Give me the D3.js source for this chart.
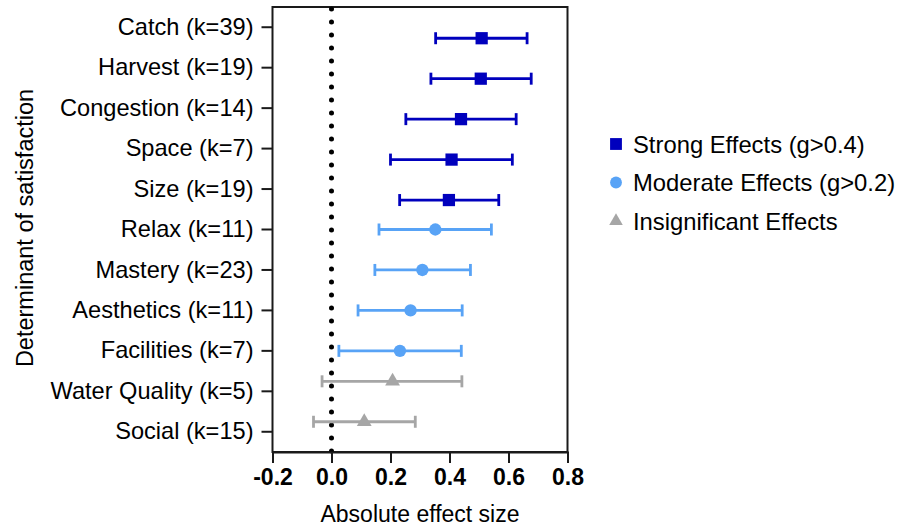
<!DOCTYPE html>
<html>
<head>
<meta charset="utf-8">
<script src="https://cdn.jsdelivr.net/npm/d3@7"></script>
<style>
  body { margin: 0; background: #fff; }
  text { font-family: "Liberation Sans", Arial, sans-serif; fill: #000; }
</style>
</head>
<body>
<div class="container"></div>
<script>
const WIDTH = 910,
    HEIGHT = 527,
    LEFT = 272.5,
    RIGHT = 567.5,
    TOP = 7,
    BOTTOM = 452;

// data
var categories = ['Catch (k=39)', 'Harvest (k=19)', 'Congestion (k=14)', 'Space (k=7)', 'Size (k=19)',
    'Relax (k=11)', 'Mastery (k=23)', 'Aesthetics (k=11)', 'Facilities (k=7)', 'Water Quality (k=5)', 'Social (k=15)'];
var means = [0.509, 0.506, 0.439, 0.407, 0.398, 0.352, 0.308, 0.268, 0.232, 0.207, 0.111];
var lower = [0.353, 0.337, 0.252, 0.200, 0.231, 0.161, 0.147, 0.090, 0.025, -0.032, -0.061];
var upper = [0.663, 0.677, 0.626, 0.613, 0.567, 0.542, 0.471, 0.443, 0.440, 0.442, 0.284];
var groups = ['strong', 'strong', 'strong', 'strong', 'strong',
    'moderate', 'moderate', 'moderate', 'moderate', 'insignificant', 'insignificant'];
var groupNames = ['strong', 'moderate', 'insignificant'];
var legendLabels = ['Strong Effects (g>0.4)', 'Moderate Effects (g>0.2)', 'Insignificant Effects'];
var xTicks = [-0.2, 0.0, 0.2, 0.4, 0.6, 0.8];

var colors = { strong: '#0000bd', moderate: '#58a3f6', insignificant: '#a6a6a6' };
var offsets = { strong: 11, moderate: 0, insignificant: -10 };
var shapes = { strong: d3.symbolSquare, moderate: d3.symbolCircle, insignificant: d3.symbolTriangle };
var sizes = { strong: 150, moderate: 120, insignificant: 95 };

var translate = (x, y) => "translate(" + x + "," + y + ")";

var svg = d3.select('.container').append('svg')
    .attr('width', WIDTH)
    .attr('height', HEIGHT);

var xScale = d3.scaleLinear().domain([-0.2, 0.8]).range([LEFT, RIGHT]);
var yScale = d3.scaleBand().domain(categories).range([TOP, BOTTOM]);

var data = categories.map((c, i) => ({
    c: c, m: means[i], lo: lower[i], hi: upper[i], g: groups[i]
}));
var yPos = (d) => yScale(d.c) + yScale.bandwidth() / 2 + offsets[d.g];

// frame
svg.append('rect')
    .attr('x', LEFT).attr('y', TOP)
    .attr('width', RIGHT - LEFT).attr('height', BOTTOM - TOP)
    .attr('fill', 'none').attr('stroke', '#1a1a1a').attr('stroke-width', 2);

// zero line
svg.append('line')
    .attr('x1', xScale(0)).attr('x2', xScale(0))
    .attr('y1', TOP + 2).attr('y2', BOTTOM)
    .attr('stroke', '#000').attr('stroke-width', 5)
    .attr('stroke-linecap', 'round')
    .attr('stroke-dasharray', '0 13');

// x axis
var xAxis = svg.append('g')
    .attr('transform', translate(0, BOTTOM))
    .call(d3.axisBottom(xScale).tickValues(xTicks).tickFormat(d3.format('.1f')).tickSize(11).tickPadding(6));
xAxis.select('.domain').attr('stroke', '#1a1a1a').attr('stroke-width', 2);
xAxis.selectAll('.tick line').attr('stroke', '#1a1a1a').attr('stroke-width', 2);
xAxis.selectAll('.tick text')
    .style('font-family', '"Liberation Sans", Arial, sans-serif')
    .style('font-size', '23px').style('font-weight', 'bold').attr('fill', '#000')
    .text(d => d.toFixed(1).replace('−', '-'));

// y axis
var yAxis = svg.append('g')
    .attr('transform', translate(LEFT, 0))
    .call(d3.axisLeft(yScale).tickSize(11).tickPadding(8));
yAxis.select('.domain').remove();
yAxis.selectAll('.tick line').attr('stroke', '#1a1a1a').attr('stroke-width', 2);
yAxis.selectAll('.tick text')
    .style('font-family', '"Liberation Sans", Arial, sans-serif')
    .style('font-size', '23.6px').attr('fill', '#000');

// axis titles
svg.append('text')
    .attr('x', (LEFT + RIGHT) / 2).attr('y', 522)
    .attr('text-anchor', 'middle')
    .style('font-size', '23px')
    .text('Absolute effect size');

svg.append('text')
    .attr('transform', translate(33, 228) + ' rotate(-90)')
    .attr('text-anchor', 'middle')
    .style('font-size', '23.5px')
    .text('Determinant of satisfaction');

// error bars
var bars = svg.append('g').selectAll('g.err').data(data).enter()
    .append('g').classed('err', true)
    .attr('stroke', d => colors[d.g]).attr('stroke-width', 2.8);

bars.append('line')
    .attr('x1', d => xScale(d.lo)).attr('x2', d => xScale(d.hi))
    .attr('y1', yPos).attr('y2', yPos);
bars.append('line')
    .attr('x1', d => xScale(d.lo)).attr('x2', d => xScale(d.lo))
    .attr('y1', d => yPos(d) - 6).attr('y2', d => yPos(d) + 6);
bars.append('line')
    .attr('x1', d => xScale(d.hi)).attr('x2', d => xScale(d.hi))
    .attr('y1', d => yPos(d) - 6).attr('y2', d => yPos(d) + 6);

// points
svg.append('g').selectAll('path').data(data).enter()
    .append('path')
    .attr('d', d => d3.symbol().type(shapes[d.g]).size(sizes[d.g])())
    .attr('transform', d => translate(xScale(d.m), yPos(d)))
    .attr('fill', d => colors[d.g]);

// legend
var legend = svg.append('g').selectAll('g').data(groupNames).enter()
    .append('g')
    .attr('transform', (d, i) => translate(616, 144 + i * 38.5));
legend.append('path')
    .attr('d', d => d3.symbol().type(shapes[d]).size(d === 'strong' ? 140 : d === 'moderate' ? 110 : 80)())
    .attr('fill', d => colors[d]);
legend.append('text')
    .attr('x', 17).attr('dy', '0.36em')
    .style('font-size', '23.8px')
    .text((d, i) => legendLabels[i]);
</script>
</body>
</html>
